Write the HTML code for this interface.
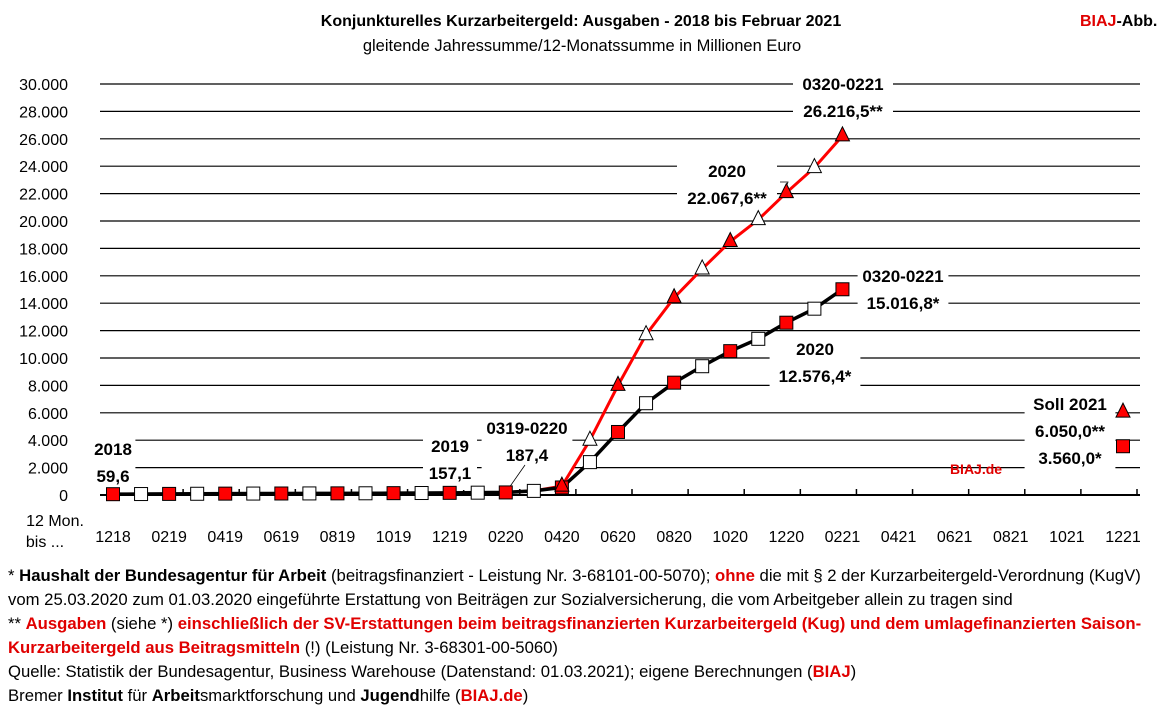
<!DOCTYPE html>
<html><head><meta charset="utf-8"><style>
body{margin:0;width:1172px;height:719px;background:#fff;font-family:"Liberation Sans",sans-serif;overflow:hidden}
.ft{position:absolute;left:8px;font-size:16.7px;white-space:nowrap;color:#000}
.r{color:#e00000}
b{font-weight:bold}
</style></head><body>
<svg id="chart" width="1172" height="560" style="position:absolute;left:0;top:0" font-family="Liberation Sans, sans-serif"></svg>
<div class="ft" style="top:566px">* <b>Haushalt der Bundesagentur für Arbeit</b> (beitragsfinanziert - Leistung Nr. 3-68101-00-5070); <b class="r">ohne</b> die mit § 2 der Kurzarbeitergeld-Verordnung (KugV)</div>
<div class="ft" style="top:590px">vom 25.03.2020 zum 01.03.2020 eingeführte Erstattung von Beiträgen zur Sozialversicherung, die vom Arbeitgeber allein zu tragen sind</div>
<div class="ft" style="top:614px">** <b class="r">Ausgaben</b> (siehe *) <b class="r">einschließlich der SV-Erstattungen beim beitragsfinanzierten Kurzarbeitergeld (Kug) und dem umlagefinanzierten Saison-</b></div>
<div class="ft" style="top:638px"><b class="r">Kurzarbeitergeld aus Beitragsmitteln</b> (!) (Leistung Nr. 3-68301-00-5060)</div>
<div class="ft" style="top:662px">Quelle: Statistik der Bundesagentur, Business Warehouse (Datenstand: 01.03.2021); eigene Berechnungen (<b class="r">BIAJ</b>)</div>
<div class="ft" style="top:686px">Bremer <b>Institut</b> für <b>Arbeit</b>smarktforschung und <b>Jugend</b>hilfe (<b class="r">BIAJ.de</b>)</div>
<script>
const categories=["1218","0119","0219","0319","0419","0519","0619","0719","0819","0919","1019","1119","1219","0120","0220","0320","0420","0520","0620","0720","0820","0920","1020","1120","1220","0121","0221","0321","0421","0521","0621","0721","0821","0921","1021","1121","1221"];
const kugValues=[59.6,70,80,90,100,105,110,115,120,125,135,145,157.1,170,187.4,300,550,2400,4600,6700,8200,9400,10500,11400,12576.4,13600,15016.8];
const kugTotalValues=[59.6,70,80,90,100,105,110,115,120,125,135,145,157.1,170,187.4,300,650,4000,8000,11700,14400,16500,18500,20100,22067.6,23900,26216.5];
const sollKug=3560, sollTotal=6050;
const yTicks=[0,2000,4000,6000,8000,10000,12000,14000,16000,18000,20000,22000,24000,26000,28000,30000];
const yTickLabels=["0","2.000","4.000","6.000","8.000","10.000","12.000","14.000","16.000","18.000","20.000","22.000","24.000","26.000","28.000","30.000"];
const svg=document.getElementById('chart');const NS="http://www.w3.org/2000/svg";
const x=i=>113+i*(1010/36);const y=v=>495-v*(411/30000);
function el(t,a,p){const e=document.createElementNS(NS,t);for(const k in a)e.setAttribute(k,a[k]);(p||svg).appendChild(e);return e;}
function txt(s,xx,yy,a){const e=el('text',Object.assign({x:xx,y:yy,'font-size':15},a||{}));e.textContent=s;return e;}
let t;
t=txt("Konjunkturelles Kurzarbeitergeld:  Ausgaben - 2018 bis Februar 2021",581,26,{'text-anchor':'middle','font-weight':'bold','font-size':16,'xml:space':'preserve'});

t=txt("gleitende  Jahressumme/12-Monatssumme in Millionen Euro",582,51,{'text-anchor':'middle','font-size':16.5,'xml:space':'preserve'});

t=el('text',{x:1080,y:26,'font-size':16,'font-weight':'bold'});t.innerHTML='<tspan fill="#e00000">BIAJ</tspan>-Abb.';

yTicks.forEach((v,i)=>{
 const g=el('line',{x1:100,x2:1140,y1:y(v),y2:y(v),stroke:'#000','stroke-width':i==0?2:1.2});
 
 const l=txt(yTickLabels[i],68,y(v)+6,{'text-anchor':'end','font-size':16});
 
});
categories.forEach((c,i)=>{
 if(i%2)return;
 const tk=el('line',{x1:x(i)+14,x2:x(i)+14,y1:489,y2:495,stroke:'#000','stroke-width':1.5});
 
 const l=txt(c,x(i),542,{'text-anchor':'middle','font-size':16});
 
});
t=txt("12 Mon.",55,526,{'text-anchor':'middle','font-size':16});
t=txt("bis ...",45,547,{'text-anchor':'middle','font-size':16});
function lbl(lines,cx,ty,name,col){
 const w=Math.max(...lines.map(s=>s.length))*9.2+8;
 const b=el('rect',{x:cx-w/2,y:ty-18,width:w,height:lines.length*27+2,fill:'#fff'});
 
 lines.forEach((s,k)=>{const e=txt(s,cx,ty+k*27,{'text-anchor':'middle','font-weight':'bold','font-size':17,fill:col||'#000'});
 });
}
lbl(["2018","59,6"],113,455,'label-2018');
lbl(["2019","157,1"],450,452,'label-2019');
lbl(["0319-0220","187,4"],527,434,'label-0319-0220');
lbl(["2020","22.067,6**"],727,177,'label-2020-total');
lbl(["0320-0221","26.216,5**"],843,90,'label-0320-0221-total');
lbl(["0320-0221","15.016,8*"],903,282,'label-0320-0221-kug');
lbl(["2020","12.576,4*"],815,355,'label-2020-kug');
lbl(["Soll 2021","6.050,0**","3.560,0*"],1070,410,'label-soll-2021');
t=txt("BIAJ.de",976,474,{'text-anchor':'middle','font-weight':'bold','font-size':14,fill:'#e00000'});
t=el('line',{x1:x(14),y1:y(187),x2:525,y2:465,stroke:'#000','stroke-width':0.8});
t=el('path',{d:`M780,182 L788,182 L${x(24)},${y(22067)-6}`,fill:'none',stroke:'#000','stroke-width':0.8});
const rp=kugTotalValues.map((v,i)=>x(i)+','+y(v)).slice(14).join(' ');
t=el('polyline',{points:rp,fill:'none',stroke:'#ff0000','stroke-width':3});
const bp=kugValues.map((v,i)=>x(i)+','+y(v)).join(' ');
t=el('polyline',{points:bp,fill:'none',stroke:'#000','stroke-width':3.5});
function tri(cx,cy,fill){return el('polygon',{points:`${cx},${cy-9} ${cx-7},${cy+5} ${cx+7},${cy+5}`,fill:fill,stroke:'#000','stroke-width':1});}
function sq(cx,cy,fill){return el('rect',{x:cx-6.5,y:cy-6.5,width:13,height:13,fill:fill,stroke:'#000','stroke-width':1});}
kugValues.forEach((v,i)=>{const m=sq(x(i),y(v),i%2?'#fff':'#ff0000');});
kugTotalValues.forEach((v,i)=>{if(i<16)return;const m=tri(x(i),y(v),i%2?'#fff':'#ff0000');});
t=tri(x(36),y(sollTotal),'#ff0000');
t=sq(x(36),y(sollKug),'#ff0000');
</script>
</body></html>
